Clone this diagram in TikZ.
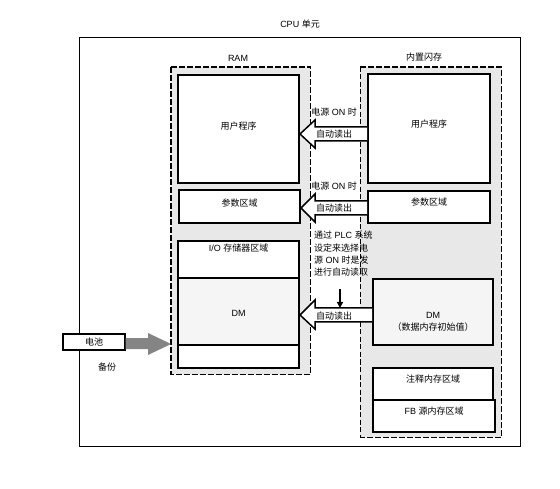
\documentclass[tikz,border=0pt]{standalone}
\usepackage{fontspec}
\setmainfont{Liberation Sans}
\newfontfamily\cjk{Noto Sans CJK SC}
\newcommand{\zh}[1]{{\cjk #1}}
\usetikzlibrary{calc,arrows.meta}
\begin{document}
\begin{tikzpicture}[x=1pt,y=-1pt,
  font=\fontsize{9}{11}\selectfont,
  box/.style={draw,line width=2pt,fill=white,inner sep=0pt,anchor=north west},
  zone/.style={fill=black!9,draw=none,inner sep=0pt,anchor=north west},
  thickdash/.style={line width=1.8pt,dash pattern=on 6pt off 2pt},
  thindash/.style={line width=0.8pt,dash pattern=on 5pt off 2.5pt},
  harrow/.style={draw,fill=white,line width=1.5pt,line join=miter},
  lbl/.style={inner sep=0pt}]
\useasboundingbox (0,0) rectangle (560,489);
% outer CPU box
\node[draw,line width=1.4pt,inner sep=0pt,anchor=north west,minimum width=441,minimum height=409] (cpu) at (79,37) {};
\node[lbl] (title) at (300,24) {CPU \zh{单元}};
% RAM zone
\node[zone,minimum width=139,minimum height=307] (ram) at (171,67) {};
\draw[thickdash] (ram.north west) rectangle (ram.south east);
\node[lbl] (ramlbl) at (238,58) {RAM};
% Flash zone
\node[zone,minimum width=141,minimum height=370] (flash) at (360,67) {};
\draw[thickdash] (flash.north west) -- (flash.north east) -- (flash.south east) -- (flash.south west);
\draw[thindash] (flash.north west) -- (flash.south west);
\node[lbl] (flashlbl) at (424,57) {\zh{内置闪存}};
% RAM boxes
\node[box,minimum width=121,minimum height=108] (rup) at (177,74) {};
\node[lbl] at ($(rup.center)+(0,-3)$) {\zh{用户程序}};
\node[box,minimum width=121,minimum height=33] (rpar) at (178,189) {};
\node[lbl] at ($(rpar.center)+(0,-3)$) {\zh{参数区域}};
\node[box,minimum width=121,minimum height=37] (rio) at (177,240) {};
\node[lbl,anchor=north] at ($(rio.north)+(0,4)$) {I/O \zh{存储器区域}};
\node[box,fill=black!4,minimum width=121,minimum height=67] (rdm) at (177,277) {};
\node[lbl] at ($(rdm.center)+(0,2)$) {DM};
\node[box,minimum width=121,minimum height=23] (rbot) at (177,344) {};
% Flash boxes
\node[box,minimum width=122,minimum height=109] (fup) at (367,73) {};
\node[lbl] at ($(fup.center)+(0,-4)$) {\zh{用户程序}};
\node[box,minimum width=122,minimum height=32] (fpar) at (367,190) {};
\node[lbl] at ($(fpar.center)+(0,-5)$) {\zh{参数区域}};
\node[box,fill=black!4,minimum width=120,minimum height=66] (fdm) at (372,278) {};
\node[lbl,align=center] at ($(fdm.center)+(0,10)$) {DM\\[1pt]\zh{（数据内存初始值）}};
\node[box,minimum width=120,minimum height=32] (fcom) at (372,367) {};
\node[lbl] at ($(fcom.center)+(0,-5)$) {\zh{注释内存区域}};
\node[box,minimum width=122,minimum height=32] (ffb) at (372,399) {};
\node[lbl] at ($(ffb.center)+(0,-5)$) {FB \zh{源内存区域}};
% hollow arrows
\draw[harrow] (fup.west |- 0,127) -- (315,127) -- (315,120) -- (rup.east |- 0,134)
  -- (315,148) -- (315,141) -- (fup.west |- 0,141);
\draw[harrow] (fpar.west |- 0,201) -- (315,201) -- (315,194) -- (rpar.east |- 0,208)
  -- (315,222) -- (315,215) -- (fpar.west |- 0,215);
\draw[harrow] (fdm.west |- 0,308) -- (315,308) -- (315,300) -- (rdm.east |- 0,315)
  -- (315,329) -- (315,322) -- (fdm.west |- 0,322);
\node[lbl] (on1) at (334,112) {\zh{电源} ON \zh{时}};
\node[lbl] (rd1) at (334,134) {\zh{自动读出}};
\node[lbl] (on2) at (334,186) {\zh{电源} ON \zh{时}};
\node[lbl] (rd2) at (334,208) {\zh{自动读出}};
\node[lbl] (rd3) at (334,316) {\zh{自动读出}};
\node[lbl,anchor=north west,align=left,font=\fontsize{9}{12.3}\selectfont] (note) at (314,231)
  {\zh{通过} PLC \zh{系统}\\\zh{设定来选择电}\\\zh{源} ON \zh{时是发}\\\zh{进行自动读取}};
\coordinate (dn1) at (340,289);
\coordinate (dn2) at (340,308);
\draw[line width=1.3pt,-{Triangle[length=6pt,width=6pt]}] (dn1) -- (dn2);
% battery
\node[draw,line width=1.4pt,fill=white,inner sep=0pt,minimum width=62,minimum height=16] (bat) at (94,342) {\zh{电池}};
\fill[black!48] (bat.east |- 0,338) -- (148,338) -- (148,333) -- (ram.west |- 0,344)
  -- (148,355) -- (148,349) -- (bat.east |- 0,349) -- cycle;
\node[lbl] (backup) at (107,367) {\zh{备份}};
\end{tikzpicture}
\end{document}
